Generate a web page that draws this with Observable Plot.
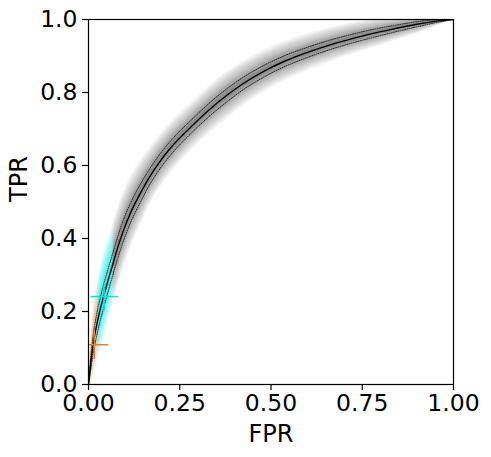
<!DOCTYPE html>
<html>
<head>
<meta charset="utf-8">
<script src="https://cdn.jsdelivr.net/npm/d3@7"></script>
<script src="https://cdn.jsdelivr.net/npm/@observablehq/plot@0.6"></script>
<style>
  html, body { margin: 0; padding: 0; background: white; }
  #chart { width: 491px; height: 457px; }
</style>
</head>
<body>
<div id="chart"></div>
<script>
// ROC curve (center estimate)
const fpr = [0, 0.004, 0.013, 0.025, 0.041, 0.055, 0.067, 0.080, 0.095, 0.115, 0.140, 0.165, 0.200, 0.240, 0.280, 0.330, 0.380, 0.420, 0.480, 0.540, 0.600, 0.660, 0.720, 0.780, 0.840, 0.900, 0.950, 1.000];
const tpr = [0, 0.038, 0.111, 0.175, 0.240, 0.290, 0.331, 0.375, 0.420, 0.470, 0.520, 0.565, 0.617, 0.665, 0.705, 0.752, 0.793, 0.822, 0.858, 0.887, 0.910, 0.930, 0.947, 0.962, 0.975, 0.987, 0.995, 1.000];
// half-width of the dotted uncertainty band (TPR units)
const spread = [0, 0.012, 0.025, 0.030, 0.032, 0.031, 0.030, 0.030, 0.029, 0.027, 0.025, 0.022, 0.020, 0.019, 0.018, 0.018, 0.018, 0.017, 0.016, 0.015, 0.014, 0.013, 0.012, 0.011, 0.009, 0.007, 0.004, 0];

// operating points with error bars
const pointFpr = [0.043, 0.016];
const pointTpr = [0.241, 0.109];
const pointErrFpr = [0.038, 0.038];
const pointErrTpr = [0.039, 0.039];

const xTicks = [0, 0.25, 0.5, 0.75, 1.0];
const yTicks = [0, 0.2, 0.4, 0.6, 0.8, 1.0];

const rows = fpr.map((x, i) => ({x, y: tpr[i], s: spread[i], lo: tpr[i] - spread[i], hi: tpr[i] + spread[i]}));
const orangePart = rows.filter(d => d.x <= 0.025);
const cyanPart = rows.filter(d => d.x >= 0.025 && d.x <= 0.067);
const grayPart = rows.filter(d => d.x >= 0.067);

const levels = [3.6, 3.2, 2.8, 2.4, 2.0, 1.7, 1.4, 1.1, 0.8, 0.5];
const pointColors = ["#12dcdc", "#d2843f"];
const pts = pointFpr.map((x, i) => ({x, y: pointTpr[i], ex: pointErrFpr[i], ey: pointErrTpr[i], c: pointColors[i]}));

function halo(data, color, op) {
  return levels.map(k => Plot.areaY(data, {
    x: "x", y1: d => d.y - k * d.s, y2: d => d.y + k * d.s,
    fill: color, fillOpacity: op, curve: "monotone-x", clip: true
  }));
}

const chart = Plot.plot({
  width: 491, height: 457,
  marginLeft: 88, marginRight: 38, marginTop: 19, marginBottom: 73,
  x: {domain: [0, 1]},
  y: {domain: [0, 1]},
  style: {fontFamily: "DejaVu Sans", color: "black", background: "white", overflow: "visible"},
  marks: [
    ...halo(grayPart, "black", 0.055),
    ...halo(cyanPart, "#00e6e6", 0.12),
    ...halo(orangePart, "#e0803a", 0.09),
    Plot.line(rows, {x: "x", y: "lo", stroke: "#222", strokeWidth: 1, strokeDasharray: "1,1.3", curve: "monotone-x", clip: true}),
    Plot.line(rows, {x: "x", y: "hi", stroke: "#222", strokeWidth: 1, strokeDasharray: "1,1.3", curve: "monotone-x", clip: true}),
    Plot.line(rows, {x: "x", y: "y", stroke: "black", strokeWidth: 1.4, curve: "monotone-x", clip: true}),
    Plot.link(pts, {x1: d => Math.max(0, d.x - d.ex), x2: d => d.x + d.ex, y1: "y", y2: "y", stroke: "c", strokeWidth: 1.5}),
    Plot.link(pts, {x1: "x", x2: "x", y1: d => d.y - d.ey, y2: d => d.y + d.ey, stroke: "c", strokeWidth: 1.5}),
    Plot.frame({stroke: "black", strokeWidth: 1.2}),
    Plot.axisX({ticks: xTicks, tickFormat: d3.format(".2f"), tickSize: 6, tickPadding: 4, fontSize: 23.5, label: null, strokeWidth: 1.2}),
    Plot.axisY({ticks: yTicks, tickFormat: d3.format(".1f"), tickSize: 6, tickPadding: 5, fontSize: 23.5, label: null, strokeWidth: 1.2}),
    Plot.text(["FPR"], {frameAnchor: "bottom", dy: 50, fontSize: 24, lineAnchor: "middle"}),
    Plot.text(["TPR"], {frameAnchor: "left", dx: -69, rotate: -90, fontSize: 24, lineAnchor: "middle"})
  ]
});
chart.style.color = "black";
document.getElementById("chart").appendChild(chart);
</script>
</body>
</html>
